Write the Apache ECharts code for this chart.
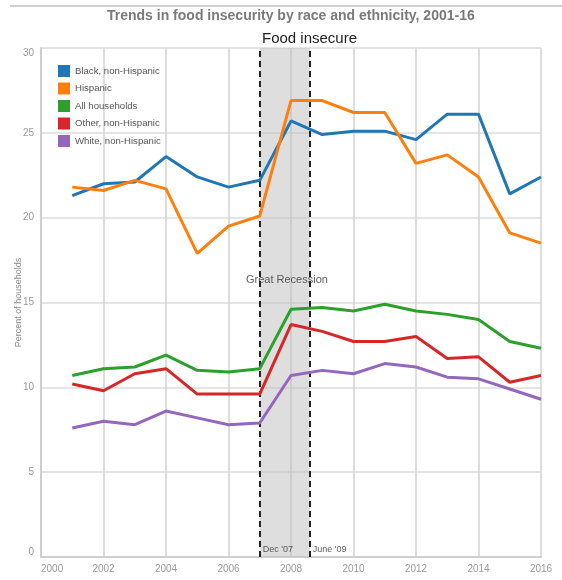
<!DOCTYPE html>
<html>
<head>
<meta charset="utf-8">
<title>Trends in food insecurity by race and ethnicity, 2001-16</title>
<script src="https://cdn.jsdelivr.net/npm/echarts@6/dist/echarts.min.js"></script>
<style>
  html, body { margin: 0; padding: 0; background: #fff; }
  #chart { width: 562px; height: 580px; }
</style>
</head>
<body>
<div id="chart"></div>
<script>
// Survey years
var years = [2001, 2002, 2003, 2004, 2005, 2006, 2007, 2008, 2009, 2010, 2011, 2012, 2013, 2014, 2015, 2016];

// Percent of households that are food insecure
var black    = [21.3, 22.0, 22.1, 23.6, 22.4, 21.8, 22.2, 25.7, 24.9, 25.1, 25.1, 24.6, 26.1, 26.1, 21.4, 22.4];
var hispanic = [21.8, 21.6, 22.2, 21.7, 17.9, 19.5, 20.1, 26.9, 26.9, 26.2, 26.2, 23.2, 23.7, 22.4, 19.1, 18.5];
var allHouseholds = [10.7, 11.1, 11.2, 11.9, 11.0, 10.9, 11.1, 14.6, 14.7, 14.5, 14.9, 14.5, 14.3, 14.0, 12.7, 12.3];
var other    = [10.2, 9.8, 10.8, 11.1, 9.6, 9.6, 9.6, 13.7, 13.3, 12.7, 12.7, 13.0, 11.7, 11.8, 10.3, 10.7];
var white    = [7.6, 8.0, 7.8, 8.6, 8.2, 7.8, 7.9, 10.7, 11.0, 10.8, 11.4, 11.2, 10.6, 10.5, 9.9, 9.3];

var seriesNames = ['Black, non-Hispanic', 'Hispanic', 'All households', 'Other, non-Hispanic', 'White, non-Hispanic'];
var seriesValues = [black, hispanic, allHouseholds, other, white];
var seriesColors = ['#1f77b4', '#ff7f0e', '#2ca02c', '#d62728', '#9467bd'];

// Recession band as drawn on the year axis, with its edge labels
var recessionBand = [2007, 2008.6];
var recessionLabels = ["Dec '07", "June '09"];

// Axis ticks
var xTicks = { min: 2000, max: 2016, interval: 2 };
var yTicks = { min: 0, max: 30, interval: 5 };

var FONT = '"Liberation Sans", Arial, sans-serif';

function pairs(values) {
  return years.map(function (y, i) { return [y, values[i]]; });
}

var lineSeries = seriesNames.map(function (name, i) {
  return {
    name: name,
    type: 'line',
    data: pairs(seriesValues[i]),
    showSymbol: false,
    symbol: 'none',
    lineStyle: { width: 3, color: seriesColors[i] },
    itemStyle: { color: seriesColors[i] },
    z: 5,
    silent: true
  };
});

var chart = echarts.init(document.getElementById('chart'), null, { renderer: 'canvas' });

chart.setOption({
  animation: false,
  backgroundColor: '#fff',
  textStyle: { fontFamily: FONT },
  title: [
    {
      text: 'Trends in food insecurity by race and ethnicity, 2001-16',
      left: 102,
      top: 4,
      textStyle: { fontFamily: FONT, fontSize: 14, fontWeight: 'bold', color: '#7a7a7a' }
    },
    {
      text: 'Food insecure',
      left: 257,
      top: 26,
      textStyle: { fontFamily: FONT, fontSize: 15, fontWeight: 'normal', color: '#222' }
    }
  ],
  legend: {
    data: seriesNames,
    orient: 'vertical',
    left: 53,
    top: 60,
    icon: 'rect',
    itemWidth: 12,
    itemHeight: 12,
    itemGap: 5.5,
    selectedMode: false,
    textStyle: { fontFamily: FONT, fontSize: 9.6, color: '#555' }
  },
  grid: { left: 41, right: 21, top: 48, bottom: 23, containLabel: false, outerBoundsMode: 'none' },
  xAxis: {
    type: 'value',
    min: xTicks.min,
    max: xTicks.max,
    interval: xTicks.interval,
    axisLine: { show: true, lineStyle: { color: '#cfcfcf', width: 2 } },
    axisTick: { show: false },
    splitLine: { show: true, lineStyle: { color: '#d2d2d2', width: 1.5 } },
    axisLabel: {
      formatter: function (v) { return String(v); },
      fontFamily: FONT,
      fontSize: 10,
      color: '#9a9a9a',
      margin: 7,
      alignMinLabel: 'left'
    }
  },
  yAxis: {
    type: 'value',
    min: yTicks.min,
    max: yTicks.max,
    interval: yTicks.interval,
    name: 'Percent of households',
    nameLocation: 'middle',
    nameGap: 18,
    nameMoveOverlap: false,
    nameRotate: 90,
    nameTextStyle: { fontFamily: FONT, fontSize: 9, color: '#888' },
    axisLine: { show: true, lineStyle: { color: '#cfcfcf', width: 2 } },
    axisTick: { show: false },
    splitLine: { show: true, lineStyle: { color: '#dcdcdc', width: 1.5 } },
    axisLabel: {
      fontFamily: FONT,
      fontSize: 10,
      color: '#9a9a9a',
      margin: 7,
      verticalAlign: 'middle',
      verticalAlignMinLabel: 'bottom',
      verticalAlignMaxLabel: 'top'
    }
  },
  graphic: [
    {
      type: 'line',
      shape: { x1: 10, y1: 6, x2: 562, y2: 6 },
      style: { stroke: '#cfcfcf', lineWidth: 2 },
      silent: true
    }
  ],
  series: [
    // shaded recession band
    {
      name: 'band',
      type: 'line',
      data: [],
      z: 1,
      silent: true,
      markArea: {
        silent: true,
        itemStyle: { color: 'rgba(190,190,190,0.5)' },
        data: [[{ xAxis: recessionBand[0] }, { xAxis: recessionBand[1] }]]
      }
    },
    // text annotations for the band
    {
      name: 'notes',
      type: 'scatter',
      symbolSize: 0,
      z: 2,
      silent: true,
      data: [
        { value: [recessionBand[0], 0.45], label: { formatter: recessionLabels[0], position: 'right', distance: 3 } },
        { value: [recessionBand[1], 0.45], label: { formatter: recessionLabels[1], position: 'right', distance: 3 } },
        { value: [(recessionBand[0] + recessionBand[1]) / 2 + 0.07, 16.3], label: { formatter: 'Great Recession', position: 'inside', fontSize: 11, color: '#333' } }
      ],
      label: { show: true, fontFamily: FONT, fontSize: 9, color: '#333' }
    },
    // dashed band edges
    {
      name: 'edges',
      type: 'line',
      data: [[recessionBand[0], 0], [recessionBand[1], 0]],
      lineStyle: { opacity: 0 },
      showSymbol: false,
      symbol: 'none',
      z: 3,
      silent: true,
      markLine: {
        silent: true,
        symbol: ['none', 'none'],
        label: { show: false },
        lineStyle: { color: '#222', type: [6, 4], width: 2 },
        data: [{ xAxis: recessionBand[0] }, { xAxis: recessionBand[1] }]
      }
    }
  ].concat(lineSeries)
});
</script>
</body>
</html>
